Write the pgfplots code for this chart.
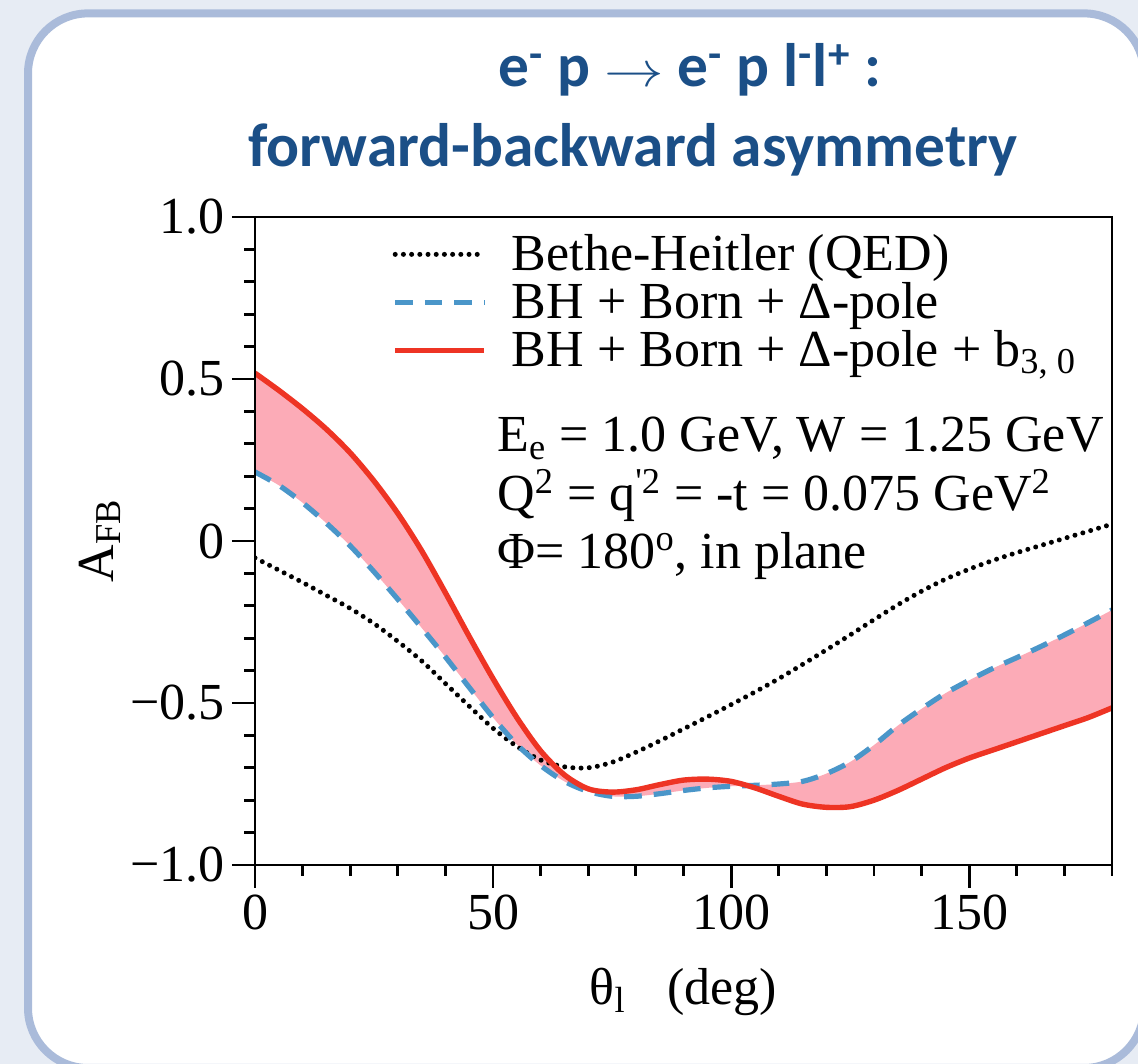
\documentclass[border=0pt]{standalone}
\usepackage{fontspec}
\setmainfont{Liberation Serif}
\newfontfamily\titlefont{Carlito}
\usepackage{graphicx}
\usepackage{pgfplots}
\usepackage{pgfplotstable}
\pgfplotsset{compat=1.18}
\usepgfplotslibrary{fillbetween}

\definecolor{bgblue}{HTML}{E7ECF4}
\definecolor{framecol}{HTML}{AABBDA}
\definecolor{titleblue}{HTML}{1B4F87}
\definecolor{bhred}{HTML}{EE3424}
\definecolor{bhblue}{HTML}{4A96C9}
\definecolor{bandpink}{HTML}{FCABB7}

\newcommand{\tnr}{\fontsize{26bp}{30bp}\selectfont}

% theta_l (deg), A_FB
\pgfplotstableread{
theta  afb
0    -0.052
5    -0.090
10   -0.128
15   -0.168
20   -0.208
25   -0.255
30   -0.310
35   -0.370
40   -0.440
45   -0.510
50   -0.578
55   -0.634
60   -0.676
65   -0.697
70   -0.700
75   -0.683
80   -0.652
85   -0.617
90   -0.580
95   -0.543
100  -0.505
105  -0.466
110  -0.425
115  -0.381
120  -0.336
125  -0.290
130  -0.243
135  -0.197
140  -0.155
145  -0.118
150  -0.087
155  -0.060
160  -0.036
165  -0.014
170   0.008
175   0.030
180   0.052
}\bhqed

\pgfplotstableread{
theta  afb
0     0.213
5     0.172
10    0.118
15    0.055
20   -0.015
25   -0.095
30   -0.180
35   -0.268
40   -0.358
45   -0.452
50   -0.545
55   -0.628
60   -0.693
65   -0.742
70   -0.773
75   -0.788
80   -0.788
85   -0.780
90   -0.770
95   -0.762
100  -0.757
105  -0.754
110  -0.750
115  -0.742
120  -0.718
125  -0.682
130  -0.630
135  -0.570
140  -0.518
145  -0.470
150  -0.430
155  -0.393
160  -0.360
165  -0.326
170  -0.290
175  -0.252
180  -0.213
}\bhdelta

\pgfplotstableread{
theta  afb
0     0.518
5     0.465
10    0.408
15    0.345
20    0.272
25    0.185
30    0.085
35   -0.030
40   -0.160
45   -0.295
50   -0.425
55   -0.545
60   -0.648
65   -0.722
70   -0.765
75   -0.775
80   -0.768
85   -0.752
90   -0.738
95   -0.735
100  -0.742
105  -0.762
110  -0.788
115  -0.812
120  -0.822
125  -0.820
130  -0.800
135  -0.770
140  -0.735
145  -0.700
150  -0.670
155  -0.645
160  -0.620
165  -0.595
170  -0.570
175  -0.545
180  -0.515
}\bhbthree

\begin{document}
\begin{tikzpicture}
% slide background and rounded panel
\fill[bgblue] (0,0) rectangle (569bp,532bp);
\begin{scope}
  \clip (0,0) rectangle (569bp,532bp);
  \draw[overlay, framecol, line width=4bp, fill=white, rounded corners=30bp]
    (14bp,-2bp) rectangle (572bp,525.3bp);
\end{scope}

% title
\node[anchor=base, text=titleblue, inner sep=0pt]
  at (345bp,488.5bp) {\titlefont\fontsize{30.7bp}{36bp}\selectfont\bfseries
  e\textsuperscript{-} p \scalebox{1.2}[1]{$\rightarrow$} e\textsuperscript{-} p l\textsuperscript{-}l\textsuperscript{+} :};
\node[anchor=base, text=titleblue, inner sep=0pt]
  at (316.5bp,448.5bp) {\titlefont\fontsize{30.7bp}{36bp}\selectfont\bfseries
  forward-backward asymmetry};

\begin{axis}[
  at={(127.5bp,99.5bp)}, anchor=south west,
  scale only axis, width=428.5bp, height=324bp,
  xmin=0, xmax=180, ymin=-1, ymax=1,
  axis on top,
  axis line style={line width=1.4bp, black},
  tick align=outside,
  xtick pos=lower, ytick pos=left,
  major tick length=11.5bp, minor tick length=5.5bp,
  tick style={line width=1.4bp, black},
  xtick={0,50,100,150},
  xticklabels={0,50,100,150},
  minor xtick={10,20,30,40,60,70,80,90,110,120,130,140,160,170,180},
  ytick={-1,-0.5,0,0.5,1},
  yticklabels={−1.0,−0.5,0,0.5,1.0},
  minor ytick={-0.9,-0.8,-0.7,-0.6,-0.4,-0.3,-0.2,-0.1,0.1,0.2,0.3,0.4,0.6,0.7,0.8,0.9},
  ticklabel style={font=\tnr},
  xlabel={θ\textsubscript{l}\hspace{0.8em}(deg)},
  ylabel={A\textsubscript{FB}},
  label style={font=\tnr},
  xlabel style={at={(axis description cs:0.5,0)}, anchor=center, yshift=-63.5bp},
  ylabel style={at={(axis description cs:0,0.5)}, anchor=center, yshift=77.5bp},
  legend cell align=left,
  legend style={at={(rel axis cs:0.16,0.9707)}, anchor=north west,
    draw=none, fill=none, font=\tnr, row sep=0pt, inner sep=0pt,
    nodes={inner sep=0pt, text height=17bp, text depth=7bp},
    /tikz/every odd column/.append style={column sep=12.5bp}},
  legend image code/.code={\draw[#1] (0bp,3bp) -- (44.5bp,3bp);},
  fill between/on layer={},
]
% boundaries of the band between the two model curves
\addplot[draw=none, smooth, name path=blue, forget plot]
  table[x=theta, y=afb] {\bhdelta};
\addplot[draw=none, smooth, name path=red, forget plot]
  table[x=theta, y=afb] {\bhbthree};
\addplot[bandpink, draw=none, forget plot] fill between[of=red and blue];

\addplot[black, line width=2.5bp, line cap=round, dash pattern=on 0bp off 4.1bp, smooth]
  table[x=theta, y=afb] {\bhqed};
\addlegendentry{Bethe-Heitler (QED)}
\addplot[bhblue, line width=2.6bp, dash pattern=on 8.8bp off 6bp, smooth]
  table[x=theta, y=afb] {\bhdelta};
\addlegendentry{BH + Born + Δ-pole}
\addplot[bhred, line width=2.7bp, smooth]
  table[x=theta, y=afb] {\bhbthree};
\addlegendentry{BH + Born + Δ-pole + b\textsubscript{3, 0}}

\node[anchor=base west, inner sep=0pt, font=\tnr] at (axis cs:50.8,0.275)
  {E\textsubscript{e} = 1.0 GeV, W = 1.25 GeV};
\node[anchor=base west, inner sep=0pt, font=\tnr] at (axis cs:50.8,0.0926)
  {Q\textsuperscript{2} = q\textsuperscript{\textquotesingle 2} = -t = 0.075 GeV\textsuperscript{2}};
\node[anchor=base west, inner sep=0pt, font=\tnr] at (axis cs:50.8,-0.0864)
  {Φ= 180\textsuperscript{o}, in plane};
\end{axis}
\end{tikzpicture}
\end{document}
